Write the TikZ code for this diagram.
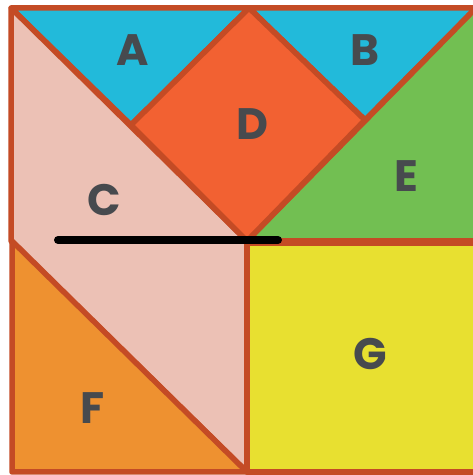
\documentclass[tikz,border=0pt]{standalone}
\usepackage{fontspec}
\newfontfamily\labfont{Poppins}[BoldFont={* Bold}]
\definecolor{edge}{HTML}{C44B25}
\definecolor{cyanA}{HTML}{22BADA}
\definecolor{redD}{HTML}{F26132}
\definecolor{greenE}{HTML}{72BF52}
\definecolor{pinkC}{HTML}{ECC1B5}
\definecolor{orangeF}{HTML}{EE9130}
\definecolor{yellowG}{HTML}{E8E030}
\definecolor{txt}{HTML}{474A4E}
\begin{document}
\begin{tikzpicture}[x=1pt,y=1pt,
  piece/.style={draw=edge,line width=5.5pt,line join=round},
  lab/.style={text=txt,font=\labfont\bfseries\fontsize{44}{44}\selectfont,inner sep=0pt}]
\useasboundingbox (0,0) rectangle (473,475);
\clip (0,0) rectangle (473,475);
\fill[white] (0,0) rectangle (473,475);
% pieces
\filldraw[piece,fill=cyanA] (11,467) -- (249,467) -- (131,350) -- cycle;
\filldraw[piece,fill=cyanA] (249,467) -- (476,467) -- (365,355) -- cycle;
\filldraw[piece,fill=pinkC] (11,467) -- (247,234) -- (247,3) -- (11,234) -- cycle;
\filldraw[piece,fill=orangeF] (12,234) -- (12,3) -- (247,3) -- cycle;
\filldraw[piece,fill=greenE] (476,467) -- (476,234) -- (247,234) -- cycle;
\filldraw[piece,fill=redD] (249,467) -- (365,355) -- (247,234) -- (131,350) -- cycle;
\filldraw[piece,fill=yellowG] (247,231.5) -- (476,231.5) -- (476,3) -- (247,3) -- cycle;
% black line
\coordinate (l1) at (58,235);
\coordinate (l2) at (278,235);
\draw[line width=8pt,line cap=round,black] (l1) -- (l2);
% labels
\node[lab] (A) at (133,425) {A};
\node[lab] (B) at (365,425) {B};
\node[lab] (D) at (252,351) {D};
\node[lab] (C) at (104,275) {C};
\node[lab] (E) at (406,299) {E};
\node[lab] (G) at (370,121) {G};
\node[lab] (F) at (93,67) {F};
\end{tikzpicture}
\end{document}
